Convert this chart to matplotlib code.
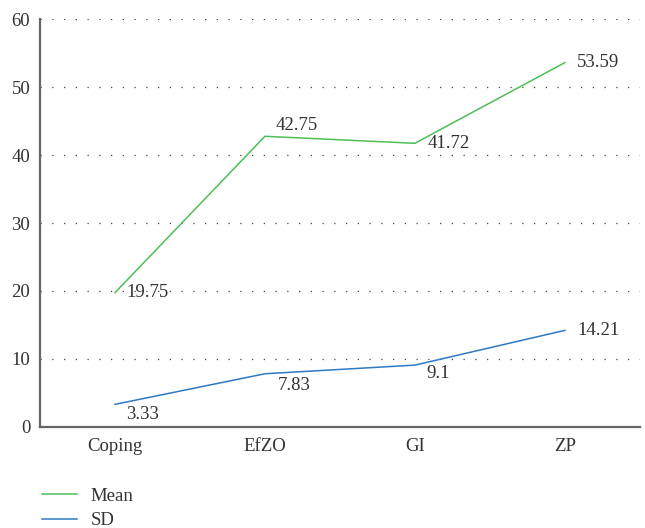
import matplotlib.pyplot as plt

categories = ["Coping", "EfZO", "GI", "ZP"]
mean_values = [19.75, 42.75, 41.72, 53.59]
sd_values = [3.33, 7.83, 9.1, 14.21]
mean_labels = ["19.75", "42.75", "41.72", "53.59"]
sd_labels = ["3.33", "7.83", "9.1", "14.21"]

GREEN = "#4cbf56"
BLUE = "#2f78c4"
TEXT = "#333333"
FS = 13.5

plt.rcParams["font.family"] = ["Liberation Serif", "DejaVu Serif"]

fig = plt.figure(figsize=(6.45, 5.28), dpi=100)
ax = fig.add_axes([0.062, 0.1913, 0.93, 0.7727])

xs = [i + 0.5 for i in range(len(categories))]
ax.plot(xs, mean_values, color=GREEN, lw=1.1, label="Mean")
ax.plot(xs, sd_values, color=BLUE, lw=1.1, label="SD")

# value labels, offsets in points
mean_offsets = [(8, 0, "left", "center"), (8, 2, "left", "bottom"),
                (9, 0, "left", "center"), (9, 0, "left", "center")]
sd_offsets = [(8, -1, "left", "top"), (9, -2, "left", "top"),
              (8, 0, "left", "top"), (9, 0, "left", "center")]
for x, v, t, (dx, dy, ha, va) in zip(xs, mean_values, mean_labels, mean_offsets):
    ax.annotate(t, (x, v), xytext=(dx, dy), textcoords="offset points",
                ha=ha, va=va, fontsize=FS, color=TEXT)
for x, v, t, (dx, dy, ha, va) in zip(xs, sd_values, sd_labels, sd_offsets):
    ax.annotate(t, (x, v), xytext=(dx, dy), textcoords="offset points",
                ha=ha, va=va, fontsize=FS, color=TEXT)

ax.set_xlim(0, 4)
ax.set_ylim(0, 60)
ax.set_xticks(xs)
ax.set_xticklabels(categories)
ax.set_yticks(range(0, 61, 10))
ax.tick_params(length=0, labelsize=FS, labelcolor=TEXT)
ax.tick_params(axis="x", pad=8)
ax.tick_params(axis="y", pad=7)

ax.yaxis.grid(True, color="#444444", lw=0.9, linestyle=(0, (1, 8.4)))
ax.set_axisbelow(True)
for side in ["top", "right"]:
    ax.spines[side].set_visible(False)
for side in ["left", "bottom"]:
    ax.spines[side].set_color("#666666")
    ax.spines[side].set_linewidth(1.6)

fig.legend(loc="upper left", bbox_to_anchor=(0.05, 0.094), frameon=False,
           fontsize=FS, labelcolor=TEXT, handlelength=1.9, handletextpad=0.7,
           labelspacing=0.4, borderpad=0)

fig.savefig("out.png", dpi=100)
